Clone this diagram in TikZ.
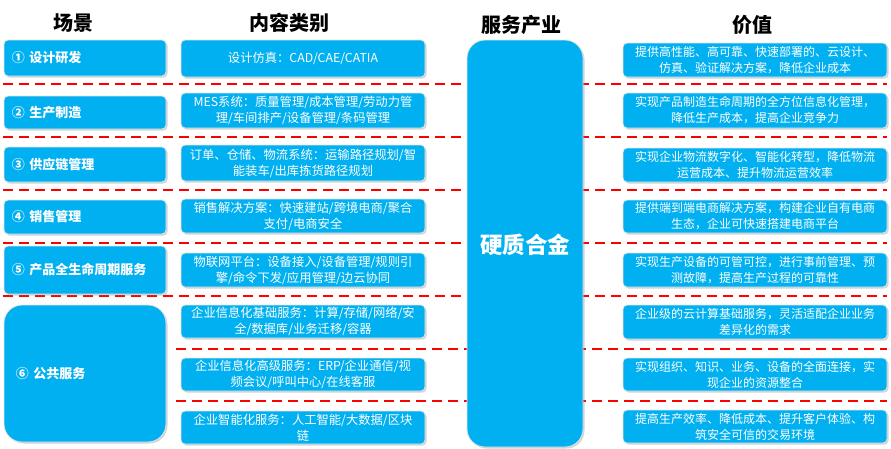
\documentclass[tikz,border=0pt]{standalone}
\usepackage{fontspec}
\setmainfont{Noto Sans CJK SC}
\usetikzlibrary{shadows}
\definecolor{boxblue}{HTML}{00B0F0}
\definecolor{sepred}{HTML}{FF0000}
\begin{document}
\begin{tikzpicture}[x=1pt,y=-1pt,
  box/.style={fill=boxblue, draw=white!80!gray, line width=0.8pt, rounded corners=4pt,
    drop shadow={shadow xshift=1.5pt, shadow yshift=-1.5pt, opacity=0.35},
    text=white, inner ysep=1pt},
  scene/.style={box, minimum width=162pt, inner xsep=8pt, text width=146pt, align=left,
    font=\fontsize{13}{16}\selectfont\bfseries},
  content/.style={box, minimum width=244pt, inner xsep=4pt, align=center,
    font=\fontsize{12.3}{16}\selectfont},
  valuebox/.style={box, minimum width=264pt, inner xsep=4pt, align=center,
    font=\fontsize{12}{16}\selectfont},
  header/.style={text=black, font=\fontsize{20}{23}\selectfont\bfseries, inner sep=0pt},
  sep/.style={draw=sepred, line width=1.8pt, dash pattern=on 10pt off 6pt}]
\useasboundingbox (0,0) rectangle (891,448);

% headers
\node[header] (h1) at (73,23) {场景};
\node[header] (h2) at (289,23) {内容类别};
\node[header] (h3) at (521,25) {服务产业};
\node[header] (h4) at (752,25) {价值};

% separators
\draw[sep] (3,84) -- (887,84);
\draw[sep] (3,137) -- (887,137);
\draw[sep] (3,190) -- (887,190);
\draw[sep] (3,243) -- (887,243);
\draw[sep] (3,296) -- (887,296);
\draw[sep] (176,349) -- (887,349);
\draw[sep] (176,401) -- (887,401);

% scenes
\node[scene, minimum height=36pt] (sc1) at (85,58) {① 设计研发};
\node[scene, minimum height=33pt] (sc2) at (85,112.5) {② 生产制造};
\node[scene, minimum height=35pt] (sc3) at (85,164.5) {③ 供应链管理};
\node[scene, minimum height=34pt] (sc4) at (85,217) {④ 销售管理};
\node[scene, minimum height=48pt] (sc5) at (85,270) {⑤ 产品全生命周期服务};
\node[scene, minimum height=137pt, rounded corners=18pt, inner xsep=12pt, text width=138pt] (sc6) at (85,373.5) {⑥ 公共服务};

% contents
\node[content, minimum height=37pt] (ct1) at (303,58.5) {设计仿真：CAD/CAE/CATIA};
\node[content, minimum height=35pt] (ct2) at (303,110.5) {MES系统：质量管理/成本管理/劳动力管\\理/车间排产/设备管理/条码管理};
\node[content, minimum height=36pt] (ct3) at (303,163) {订单、仓储、物流系统：运输路径规划/智\\能装车/出库拣货路径规划};
\node[content, minimum height=34pt] (ct4) at (303,216) {销售解决方案：快速建站/跨境电商/聚合\\支付/电商安全};
\node[content, minimum height=34pt] (ct5) at (303,270) {物联网平台：设备接入/设备管理/规则引\\擎/命令下发/应用管理/边云协同};
\node[content, minimum height=33pt] (ct6) at (303,321.5) {企业信息化基础服务：计算/存储/网络/安\\全/数据库/业务迁移/容器};
\node[content, minimum height=33pt] (ct7) at (303,374.5) {企业信息化高级服务：ERP/企业通信/视\\频会议/呼叫中心/在线客服};
\node[content, minimum height=33pt] (ct8) at (303,427.5) {企业智能化服务：人工智能/大数据/区块\\链};

% middle
\node[box, rounded corners=18pt, minimum width=116pt, minimum height=407pt] (mid) at (525,243.5) {};
\node[text=white, font=\fontsize{22.5}{26}\selectfont\bfseries] (midtext) at (525,245) {硬质合金};

% values
\node[valuebox, minimum height=34pt] (vl1) at (755,60) {提供高性能、高可靠、快速部署的、云设计、\\仿真、验证解决方案，降低企业成本};
\node[valuebox, minimum height=35pt] (vl2) at (755,110.5) {实现产品制造生命周期的全方位信息化管理，\\降低生产成本，提高企业竞争力};
\node[valuebox, minimum height=34pt] (vl3) at (755,165) {实现企业物流数字化、智能化转型，降低物流\\运营成本、提升物流运营效率};
\node[valuebox, minimum height=33pt] (vl4) at (755,216.5) {提供端到端电商解决方案，构建企业自有电商\\生态，企业可快速搭建电商平台};
\node[valuebox, minimum height=34pt] (vl5) at (755,270) {实现生产设备的可管可控，进行事前管理、预\\测故障，提高生产过程的可靠性};
\node[valuebox, minimum height=34pt] (vl6) at (755,322) {企业级的云计算基础服务，灵活适配企业业务\\差异化的需求};
\node[valuebox, minimum height=33pt] (vl7) at (755,374.5) {实现组织、知识、业务、设备的全面连接，实\\现企业的资源整合};
\node[valuebox, minimum height=33pt] (vl8) at (755,426.5) {提高生产效率、降低成本、提升客户体验、构\\筑安全可信的交易环境};
\end{tikzpicture}
\end{document}
